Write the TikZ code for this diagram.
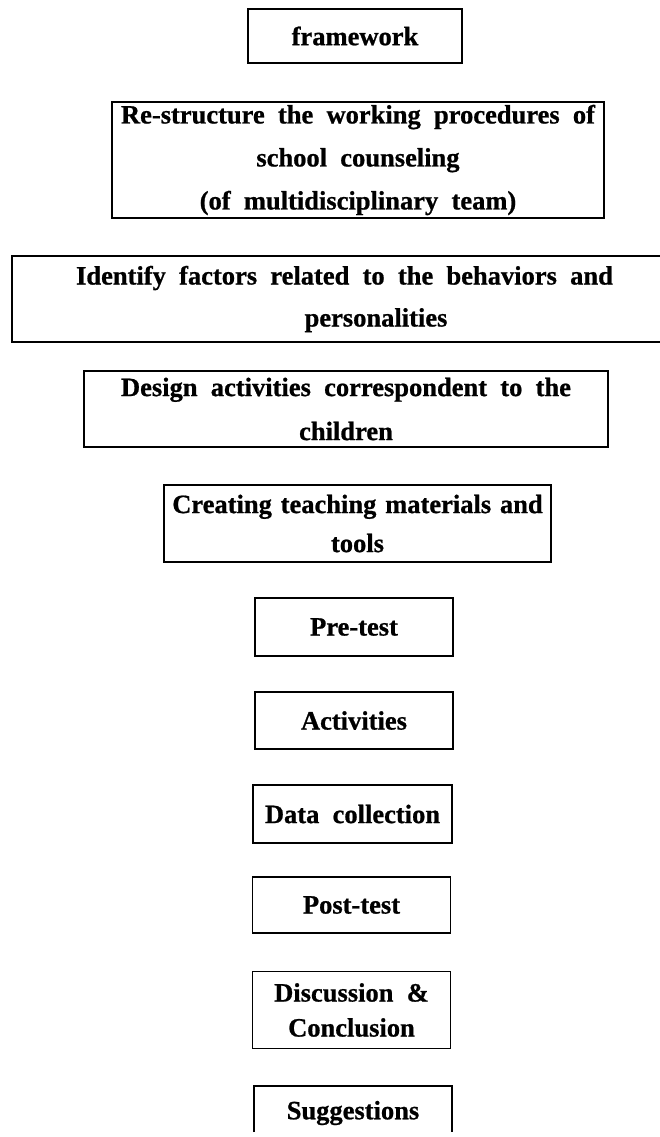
\documentclass[tikz,border=0pt]{standalone}
\usepackage{fontspec}
\setmainfont{Liberation Serif}[WordSpace=2, BoldFeatures={FakeBold=0.8}]
\newcommand{\fs}[1]{\bfseries\fontsize{26.5}{#1}\selectfont}
\begin{document}
\begin{tikzpicture}[x=1pt,y=-1pt,
  box/.style={draw, line width=1.6pt, inner sep=0pt, align=center, font=\fs{36}},
  open/.style={draw=none, inner sep=0pt, align=center, font=\fs{36}}]
\useasboundingbox (0,0) rectangle (660,1137);
\node[box, minimum width=214, minimum height=54] (fw) at (355,36) {framework};
\node[box, minimum width=492, minimum height=116, font=\fs{43}] (rs) at (358,160)
  {Re-structure the working procedures of\\school counseling\\(of multidisciplinary team)};
\node[box, minimum width=688, minimum height=86, font=\fs{42}] (id) at (356,299)
  {Identify factors related to the behaviors and\hspace*{23pt}\\\hspace*{40pt}personalities};
\node[box, minimum width=524, minimum height=76, font=\fs{44}] (da) at (346,409)
  {Design activities correspondent to the\\children};
\node[box, minimum width=387, minimum height=77, font={\fs{39}\spaceskip=8.8pt}] (ct) at (357.5,523.5)
  {Creating teaching materials and\\tools};
\node[box, minimum width=198, minimum height=58] (pre) at (354,627) {Pre-test};
\node[box, minimum width=198, minimum height=57] (act) at (354,720.5) {Activities};
\node[box, minimum width=199, minimum height=58] (dc) at (352.5,814) {Data collection};
\node[box, minimum width=198, minimum height=56] (post) at (351.5,905) {Post-test};
\node[box, minimum width=198, minimum height=77, font=\fs{35}] (dis) at (351.5,1010)
  {Discussion \&\\Conclusion};
\node[open, minimum width=198, minimum height=54] (sug) at (353,1113) {Suggestions};
\draw[line width=1.6pt] ([yshift=8]sug.south west) |- (sug.north) -| ([yshift=8]sug.south east);
\end{tikzpicture}
\end{document}
